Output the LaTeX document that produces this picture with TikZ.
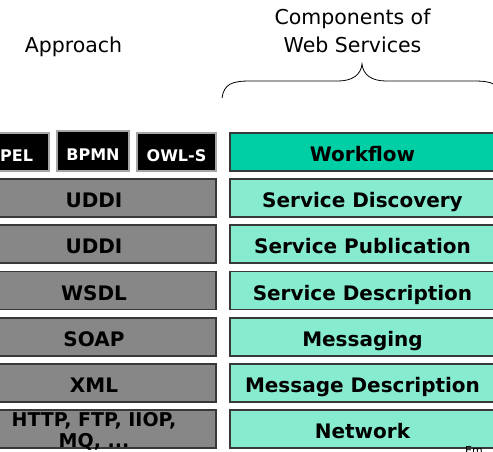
\documentclass[tikz,border=0pt]{standalone}
\usepackage{fontspec}
\setmainfont{DejaVu Sans}
\definecolor{grayfill}{HTML}{878787}
\definecolor{tealfill}{HTML}{86EBCF}
\definecolor{wfteal}{HTML}{00CFA5}
\definecolor{edge}{HTML}{383838}
\begin{document}
\begin{tikzpicture}[x=1pt,y=-1pt,
  layer/.style={draw=edge, line width=1.2pt, minimum height=38pt, inner sep=0pt,
    text height=22pt, text depth=3pt, font=\fontsize{20}{22}\selectfont\bfseries},
  rbox/.style={layer, fill=tealfill, minimum width=265pt},
  lbox/.style={layer, fill=grayfill, minimum width=244pt},
  tbox/.style={layer, fill=black, text=white, draw=gray!70,
    font=\fontsize{16}{18}\selectfont\bfseries, text height=20pt, text depth=1pt},
  plain/.style={anchor=base, inner sep=0pt, font=\fontsize{20.5}{23}\selectfont}
]
\useasboundingbox (0,0) rectangle (493,452);
\clip (0,0) rectangle (493,452);

% headings
\node[plain] (approach) at (73.5,53) {Approach};
\node[plain] (comp1) at (352.5,25) {Components of};
\node[plain] (comp2) at (352.5,53) {Web Services};

% brace
\draw[line width=0.8pt] (222,98) .. controls (224,84) and (232,81) .. (250,81)
  -- (338,81) .. controls (352,81) and (361,75) .. (362,64)
  .. controls (363,75) and (372,81) .. (386,81)
  -- (474,81) .. controls (492,81) and (500,84) .. (502,98);

% right column
\node[rbox, fill=wfteal] (wf) at (362.5,152) {Workflow};
\node[rbox] (sdisc) at (362.5,198) {Service Discovery};
\node[rbox] (spub) at (362.5,244) {Service Publication};
\node[rbox] (sdesc) at (362.5,290.5) {Service Description};
\node[rbox] (msg) at (362.5,337) {Messaging};
\node[rbox] (mdesc) at (362.5,383) {Message Description};
\node[rbox] (net) at (362.5,429) {Network};

% left column
\node[tbox, minimum width=77pt, minimum height=38pt] (bpel) at (10.5,152) {BPEL};
\node[tbox, minimum width=72pt, minimum height=40pt] (bpmn) at (93,151) {BPMN};
\node[tbox, minimum width=79pt, minimum height=38pt] (owls) at (176.5,152) {OWL-S};
\node[lbox] (uddi1) at (94,198) {UDDI};
\node[lbox] (uddi2) at (94,244) {UDDI};
\node[lbox] (wsdl) at (94,290.5) {WSDL};
\node[lbox] (soap) at (94,337) {SOAP};
\node[lbox] (xml) at (94,383) {XML};
\node[lbox] (http) at (94,429) {};
\node[anchor=base, inner sep=0pt, align=center,
  font=\fontsize{19}{21}\selectfont\bfseries] (httptxt) at (94,447.5)
  {HTTP, FTP, IIOP,\\MQ, ...};

% footer fragment
\node[anchor=north, inner sep=0pt, font=\fontsize{11}{12}\selectfont] (foot) at (474,446) {Em};
\end{tikzpicture}
\end{document}
